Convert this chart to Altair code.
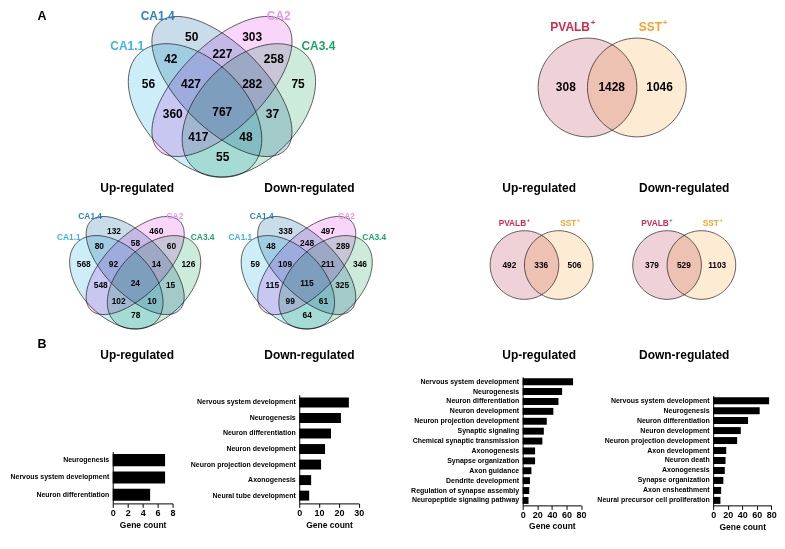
import math
import altair as alt
import pandas as pd

FONT = "Liberation Sans"

# ---------------- values ----------------
# 4-set Venn (hippocampal subregions)
set_names = ["CA1.1", "CA1.4", "CA2", "CA3.4"]
set_text_colors = ["#3db3e6", "#2a80c6", "#f292f0", "#17a95c"]
set_fill_colors = ["#cdeef8", "#c9dcea", "#f9d6f9", "#cdebdb"]
region_names = ["CA1.4", "CA2", "CA1.1&CA1.4", "CA1.4&CA2", "CA2&CA3.4", "CA1.1",
                "CA1.1&CA1.4&CA2", "CA1.4&CA2&CA3.4", "CA3.4", "CA1.1&CA2", "all",
                "CA1.4&CA3.4", "CA1.1&CA2&CA3.4", "CA1.1&CA1.4&CA3.4", "CA1.1&CA3.4"]
counts_all = [50, 303, 42, 227, 258, 56, 427, 282, 75, 360, 767, 37, 417, 48, 55]
counts_up = [132, 460, 80, 58, 60, 568, 92, 14, 126, 548, 24, 15, 102, 10, 78]
counts_down = [338, 497, 48, 248, 289, 59, 109, 211, 346, 115, 115, 325, 99, 61, 64]

# 2-set Venn (interneuron types)
cell_names = ["PVALB", "SST"]
cell_text_colors = ["#d42a4c", "#f7a12f"]
cell_fill_colors = ["#efd2d8", "#fdecd3"]
pair_all = [308, 1428, 1046]
pair_up = [492, 336, 506]
pair_down = [379, 529, 1103]

panel_titles = ["Up-regulated", "Down-regulated", "Up-regulated", "Down-regulated"]

# GO enrichment bars
go_up4_terms = ["Neurogenesis", "Nervous system development", "Neuron differentiation"]
go_up4_counts = [7, 7, 5]
go_down4_terms = ["Nervous system development", "Neurogenesis", "Neuron differentiation",
                  "Neuron development", "Neuron projection development", "Axonogenesis",
                  "Neural tube development"]
go_down4_counts = [25, 21, 16, 13, 11, 6, 5]
go_up2_terms = ["Nervous system development", "Neurogenesis", "Neuron differentiation",
                "Neuron development", "Neuron projection development", "Synaptic signaling",
                "Chemical synaptic transmission", "Axonogenesis", "Synapse organization",
                "Axon guidance", "Dendrite development", "Regulation of synapse assembly",
                "Neuropeptide signaling pathway"]
go_up2_counts = [69, 54, 49, 42, 33, 29, 27, 17, 17, 12, 10, 9, 8]
go_down2_terms = ["Nervous system development", "Neurogenesis", "Neuron differentiation",
                  "Neuron development", "Neuron projection development", "Axon development",
                  "Neuron death", "Axonogenesis", "Synapse organization", "Axon ensheathment",
                  "Neural precursor cell proliferation"]
go_down2_counts = [77, 64, 48, 38, 33, 18, 17, 16, 14, 11, 10]

# ---------------- layout (page pixels) ----------------
OX, OY = 112.5, 370           # page position of the first bar panel's plot origin
PX = [OX, 299.3, 522.7, 713]  # plot-left of each bar panel
DYA = 3                       # vertical shift of section A

venn4_layout = [(222, 107 + DYA, 1.0), (135, 279 + DYA, 0.7), (307, 279 + DYA, 0.7)]
venn4_counts = [counts_all, counts_up, counts_down]
ell_dx = [-27, 0, 0, 27]
ell_dy = [-1, -25, -25, -1]
ell_a = [80, 90, 90, 80]
ell_b = [50.5, 42, 42, 50.5]
ell_angle = [45, 45, 135, 135]
reg_dx = [-30.3, 30.3, -51.3, 0.5, 52, -73.7, -31, 30.3, 76.3, -49.3, 0.3, 50.7, -23.7, 24, 0.7]
reg_dy = [-74.3, -74.3, -53, -57.7, -53, -27.7, -27.7, -27.7, -27.7, 2.7, 0.3, 2.7, 25.4, 25.4, 45.4]
lab_dx = [-78, -47.5, 45, 79.7]
lab_dy = [-65.3, -95.3, -96, -65.3]
lab_align = ["right", "right", "left", "left"]

venn2_layout = [(613.25, 83 + DYA, 1.0), (542.5, 261 + DYA, 0.695), (685.5, 261 + DYA, 0.695)]
venn2_counts = [pair_all, pair_up, pair_down]
circ_dx = [-24.75, 24.75]
circ_r = 49.5
num2_dx = [-46.5, -0.5, 47.5]
lab2_right = [-22.25, 50]
lab2_dy = -60.3

title_x = [137, 309.7, 540, 685.5]
title_y = [184 + DYA, OY - 16]
letters = [("A", 41.7, 14.5), ("B", 41.7, OY - 27)]


def ellipse_path(q, angle_deg, n=90):
    """Unit ellipse (semi-axes 1 and q) rotated by angle, as a polygon symbol path."""
    ca, sa = math.cos(math.radians(angle_deg)), math.sin(math.radians(angle_deg))
    pts = []
    for i in range(n):
        t = 2 * math.pi * i / n
        ex, ey = math.cos(t), q * math.sin(t)
        pts.append(f"{ex * ca - ey * sa:.4f} {ex * sa + ey * ca:.4f}")
    return "M " + " L ".join(pts) + " Z"


shape_rows, num_rows, lab_rows, title_rows = [], [], [], []
for (ox, oy, k), cnts in zip(venn4_layout, venn4_counts):
    for i in range(4):
        shape_rows.append(dict(x=ox + ell_dx[i] * k, y=oy + ell_dy[i] * k,
                               size=(2 * ell_a[i] * k) ** 2,
                               path=ellipse_path(ell_b[i] / ell_a[i], ell_angle[i]),
                               fill=set_fill_colors[i]))
        lab_rows.append(dict(x=ox + lab_dx[i] * k, y=oy + lab_dy[i] * k, text=set_names[i],
                             fs=12 * k, col=set_text_colors[i], al=lab_align[i]))
    for j, v in enumerate(cnts):
        num_rows.append(dict(x=ox + reg_dx[j] * k, y=oy + reg_dy[j] * k, text=str(v), fs=12 * k))

for (mx, my, k), cnts in zip(venn2_layout, venn2_counts):
    for i in range(2):
        shape_rows.append(dict(x=mx + circ_dx[i] * k, y=my, size=(2 * circ_r * k) ** 2,
                               path=ellipse_path(1.0, 0), fill=cell_fill_colors[i]))
        lab_rows.append(dict(x=mx + lab2_right[i] * k, y=my + lab2_dy * k, text=cell_names[i],
                             fs=12 * k, col=cell_text_colors[i], al="right"))
        lab_rows.append(dict(x=mx + (lab2_right[i] + 0.8) * k, y=my + (lab2_dy - 4.5) * k, text="+",
                             fs=8 * k, col=cell_text_colors[i], al="left"))
    for j, v in enumerate(cnts):
        num_rows.append(dict(x=mx + num2_dx[j] * k, y=my - 0.5 * k, text=str(v), fs=12 * k))

for ty in title_y:
    for tx, t in zip(title_x, panel_titles):
        title_rows.append(dict(x=tx, y=ty, text=t, fs=12))
for t, lx, ly in letters:
    title_rows.append(dict(x=lx, y=ly, text=t, fs=12.5))

shape_df = pd.DataFrame(shape_rows)
num_df = pd.DataFrame(num_rows)
lab_df = pd.DataFrame(lab_rows)
title_df = pd.DataFrame(title_rows)
anchor_df = pd.DataFrame({"x": [8.5], "y": [8.5]})


def xy():
    return dict(
        x=alt.X("x:Q", scale=alt.Scale(domain=[8, 785], range=[8 - OX, 785 - OX],
                                       nice=False, zero=False), axis=None),
        y=alt.Y("y:Q", scale=alt.Scale(domain=[8, 549], range=[8 - OY, 549 - OY],
                                       nice=False, zero=False), axis=None),
    )


anchor = alt.Chart(anchor_df).mark_point(size=1, opacity=0, filled=True).encode(**xy())

shapes = alt.Chart(shape_df).mark_point(
    filled=True, opacity=1, fillOpacity=1, stroke="#3a3a3a", strokeWidth=0.8, blend="multiply"
).encode(
    **xy(),
    size=alt.Size("size:Q", scale=None),
    shape=alt.Shape("path:N", scale=None),
    color=alt.Color("fill:N", scale=None),
)

nums = alt.Chart(num_df).mark_text(
    font=FONT, fontWeight="bold", color="black", align="center", baseline="middle"
).encode(**xy(), text="text:N", size=alt.Size("fs:Q", scale=None))

lab_r = alt.Chart(lab_df[lab_df.al == "right"]).mark_text(
    font=FONT, fontWeight="bold", align="right", baseline="middle"
).encode(**xy(), text="text:N", size=alt.Size("fs:Q", scale=None), color=alt.Color("col:N", scale=None))

lab_l = alt.Chart(lab_df[lab_df.al == "left"]).mark_text(
    font=FONT, fontWeight="bold", align="left", baseline="middle"
).encode(**xy(), text="text:N", size=alt.Size("fs:Q", scale=None), color=alt.Color("col:N", scale=None))

titles = alt.Chart(title_df).mark_text(
    font=FONT, fontWeight="bold", color="black", align="center", baseline="middle"
).encode(**xy(), text="text:N", size=alt.Size("fs:Q", scale=None))


def bar_layer(terms, counts, xmax, ticks, xlen, yrange, pad, title_pad):
    df = pd.DataFrame({"term": terms, "count": counts})
    return alt.Chart(df).mark_bar(color="black").encode(
        x=alt.X("count:Q", scale=alt.Scale(domain=[0, xmax], range=[0, xlen], nice=False, zero=True),
                axis=alt.Axis(values=ticks, title="Gene count", grid=False, labelFont=FONT,
                              labelFontWeight="bold", labelFontSize=9, labelColor="black",
                              labelPadding=1, labelFlush=False, tickSize=4, tickWidth=1,
                              tickColor="black", domainColor="black", domainWidth=1,
                              titleFont=FONT, titleFontWeight="bold", titleFontSize=8.5,
                              titleColor="black", titlePadding=title_pad, titleX=xlen / 2,
                              format="d")),
        y=alt.Y("term:N", sort=terms,
                scale=alt.Scale(range=yrange, paddingInner=pad, paddingOuter=pad / 2),
                axis=alt.Axis(title=None, ticks=False, grid=False, labelFont=FONT,
                              labelFontWeight="bold", labelFontSize=7, labelColor="black",
                              labelPadding=4, labelLimit=300, domainColor="black", domainWidth=1)),
    )


bar1 = bar_layer(go_up4_terms, go_up4_counts, 8, [0, 2, 4, 6, 8], 60, [81, 133], 0.3, 3)
bar2 = bar_layer(go_down4_terms, go_down4_counts, 30, [0, 10, 20, 30], 59.7, [24, 133], 0.36, 3)
bar3 = bar_layer(go_up2_terms, go_up2_counts, 80, [0, 20, 40, 60, 80], 58.6, [6, 135], 0.3, 2)
bar4 = bar_layer(go_down2_terms, go_down2_counts, 80, [0, 20, 40, 60, 80], 58.3, [25, 135], 0.3, 3)

panel1 = alt.layer(bar1, anchor, shapes, nums, lab_r, lab_l, titles).resolve_scale(
    x="independent", y="independent"
).properties(width=PX[1] - PX[0], height=133)
panel2 = bar2.properties(width=PX[2] - PX[1], height=133)
panel3 = bar3.properties(width=PX[3] - PX[2], height=135)
panel4 = bar4.properties(width=58.3, height=135)

chart = alt.hconcat(panel1, panel2, panel3, panel4, spacing=0, bounds="flush").properties(
    padding=0
).configure_view(stroke="transparent")

chart.save("out.html", embed_options={"renderer": "svg", "actions": False})
